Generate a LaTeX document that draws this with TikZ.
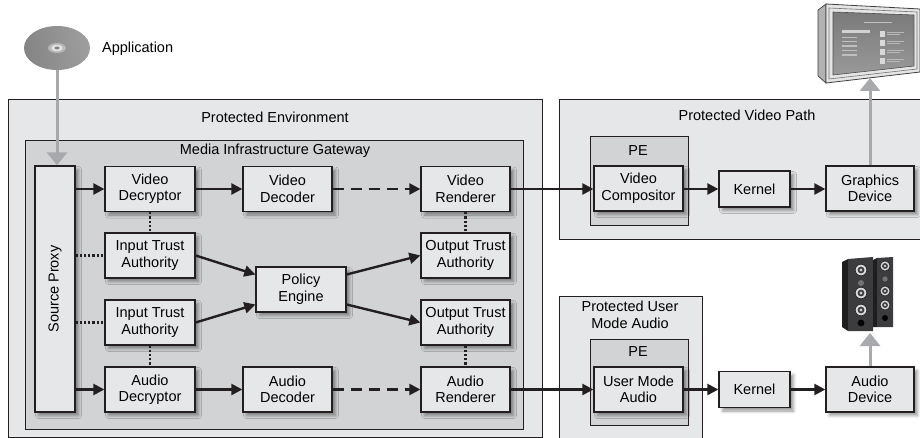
\documentclass[tikz,border=0pt]{standalone}
\usepackage{fontspec}
\setmainfont{Liberation Sans}
\usetikzlibrary{arrows.meta,shapes.geometric,shadows.blur,calc}

\definecolor{envfill}{HTML}{E6E7E8}
\definecolor{gwfill}{HTML}{D1D3D4}
\definecolor{boxfill}{HTML}{E6E7E8}
\definecolor{ink}{HTML}{231F20}
\definecolor{pipecol}{HTML}{A7A9AC}
\definecolor{spkfront}{HTML}{3C3C3E}
\definecolor{spkside}{HTML}{1E1E20}

\tikzset{
  container/.style={draw=ink, line width=1.1pt, fill=envfill, inner sep=0pt, anchor=north west},
  gateway/.style={container, fill=gwfill},
  pebox/.style={container, fill=gwfill},
  stage/.style={draw=ink, line width=1.3pt, fill=boxfill, align=center, inner sep=0pt,
    minimum width=89pt, minimum height=45pt,
    blur shadow={shadow xshift=3.5pt, shadow yshift=-3.5pt, shadow blur radius=3pt, shadow opacity=40}},
  kernelbox/.style={stage, minimum width=71pt, minimum height=36pt},
  title/.style={inner sep=0pt, align=center},
  flow/.style={draw=ink, line width=2.4pt, -{Triangle[length=11pt,width=11pt]}},
  relay/.style={flow, dash pattern=on 11.5pt off 6.5pt},
  trust/.style={draw=ink, line width=2.2pt, dash pattern=on 2.2pt off 2pt},
  pipe/.style={draw=pipecol, line width=3pt, -{Triangle[length=13pt,width=20pt]}},
  driver/.style={fill=white!85!black, draw=spkside, line width=0.6pt},
}

\begin{document}
\begin{tikzpicture}[x=1pt, y=-1pt, font=\fontsize{14.5}{16.5}\selectfont]
\useasboundingbox (0,0) rectangle (920,438);

% ---- containers ----
\node[container, minimum width=534pt, minimum height=338pt] (penv) at (8,99) {};
\node[title] (penvlbl) at (275,117) {Protected Environment};
\node[gateway, minimum width=498pt, minimum height=289pt] (mig) at (25,140) {};
\node[title] (miglbl) at (275,151) {Media Infrastructure Gateway};

\node[container, minimum width=370pt, minimum height=140pt] (pvp) at (559,99) {};
\node[title] (pvplbl) at (747,115) {Protected Video Path};
\node[pebox, minimum width=98pt, minimum height=89pt] (pev) at (590,136) {};
\node[title] (pevlbl) at (638,151) {PE};

\node[container, minimum width=143pt, minimum height=150pt] (puma) at (559,296) {};
\node[title] (pumalbl) at (630,315) {Protected User\\Mode Audio};
\node[pebox, minimum width=98pt, minimum height=86pt] (pea) at (590,339) {};
\node[title] (pealbl) at (638,352) {PE};

% ---- processing stages ----
\node[stage, minimum width=40pt, minimum height=246pt] (sp) at (55,289) {};
\node[rotate=90, inner sep=0pt] (splbl) at (sp.center) {Source Proxy};

\node[stage, minimum width=90pt] (vdec) at (150,189) {Video\\Decryptor};
\node[stage, minimum width=90pt] (ita1) at (150,255.5) {Input Trust\\Authority};
\node[stage, minimum width=90pt] (ita2) at (150,322.5) {Input Trust\\Authority};
\node[stage, minimum width=90pt] (adec) at (150,389.5) {Audio\\Decryptor};

\node[stage] (vdecod) at (287.5,189) {Video\\Decoder};
\node[stage] (adecod) at (287.5,389.5) {Audio\\Decoder};
\node[stage, minimum width=90pt] (pol) at (301,289.5) {Policy\\Engine};

\node[stage] (vrend) at (465.5,189) {Video\\Renderer};
\node[stage] (ota1) at (465.5,255.5) {Output Trust\\Authority};
\node[stage] (ota2) at (465.5,322.5) {Output Trust\\Authority};
\node[stage] (arend) at (465.5,389.5) {Audio\\Renderer};

\node[stage] (vcomp) at (638.5,188.5) {Video\\Compositor};
\node[kernelbox] (kv) at (754.5,189) {Kernel};
\node[stage, minimum width=88pt] (gdev) at (870,188.5) {Graphics\\Device};

\node[stage] (uma) at (638.5,389.5) {User Mode\\Audio};
\node[kernelbox] (ka) at (754.5,389.5) {Kernel};
\node[stage, minimum width=88pt] (adev) at (870,389.5) {Audio\\Device};

% ---- application disc ----
\node[ellipse, minimum width=66pt, minimum height=44pt, inner sep=0pt,
      left color=black!48, middle color=black!8, right color=black!38,
      shading angle=100] (disc) at (57,48) {};
\fill[black!28] (disc.center) ellipse (9 and 5);
\fill[black!12] (disc.center) ellipse (6 and 3.2);
\fill[black!50] (disc.center) ellipse (2.5 and 1.4);
\node[anchor=west, inner sep=0pt] (applbl) at (102,49) {Application};

% ---- display ----
\coordinate (monbase) at (870,78);
\fill[black!30, draw=black!75, line width=0.7pt] (818,10) -- (826,4) -- (826,83) -- (818,76) -- cycle;
\fill[black!10, draw=black!75, line width=0.8pt] (826,4) -- (920,9) -- (920,72) -- (826,83) -- cycle;
\draw[black!55, line width=0.6pt] (829,8) -- (917,12) -- (917,69) -- (829,79) -- cycle;
\shade[top color=black!52, bottom color=black!40, draw=black!70, line width=0.6pt]
  (833,12) -- (914,15) -- (914,66) -- (833,75) -- cycle;
\fill[black!25] (864,22) rectangle (892,23.2);
\fill[black!18] (842,30.5) rectangle (870,33.5);
\foreach \yy in {37,41,45.5,50,54.5}
  \fill[black!25] (842,\yy) rectangle (857,\yy+1.1);
\foreach \yy in {31,40,49,58}{
  \fill[black!15] (880,\yy) rectangle (885,\yy+6);
  \fill[black!28] (887,\yy+0.8) rectangle (904,\yy+1.8);
  \fill[black!28] (887,\yy+3.2) rectangle (900,\yy+4.2);
}

% ---- speakers ----
\coordinate (spkbase) at (870,333);
\fill[spkside] (842,262) -- (848,259) -- (848,331) -- (842,327) -- cycle;
\fill[spkfront] (848,259) -- (873,257) -- (873,331) -- (848,331) -- cycle;
\fill[spkside] (873,260) -- (877,258) -- (877,327) -- (873,327) -- cycle;
\fill[spkfront] (877,258) -- (893,257) -- (893,327) -- (877,327) -- cycle;
\foreach \yy in {270,293,310}{
  \draw[driver] (861,\yy) circle (5.8);
  \fill[spkfront] (861,\yy) circle (3.4);
  \fill[white!80!black] (861,\yy) circle (1.6);
}
\fill[black!55] (861,283) circle (3);
\fill[black] (861,323) circle (3.4);
\foreach \yy in {266,291,305}{
  \draw[driver] (885,\yy) circle (5);
  \fill[spkfront] (885,\yy) circle (2.9);
  \fill[white!80!black] (885,\yy) circle (1.4);
}
\fill[black!55] (885,279) circle (2.6);
\fill[black] (885,318) circle (3);

% ---- trust links ----
\draw[trust] (vdec.south) -- (ita1.north);
\draw[trust] (ita2.south) -- (adec.north);
\draw[trust] (vrend.south) -- (ota1.north);
\draw[trust] (ota2.south) -- (arend.north);
\draw[trust] (sp.east |- ita1) -- (ita1.west);
\draw[trust] (sp.east |- ita2) -- (ita2.west);

% ---- media flow ----
\draw[flow] (sp.east |- vdec) -- (vdec.west);
\draw[flow] (sp.east |- adec) -- (adec.west);
\draw[flow] (vdec) -- (vdecod);
\draw[flow] (adec) -- (adecod);
\draw[relay] (vdecod) -- (vrend);
\draw[relay] (adecod) -- (arend);
\draw[flow] (vrend.east) -- (vcomp.west |- vrend.east);
\draw[flow] (arend.east) -- (uma.west |- arend.east);
\draw[flow] (vcomp.east |- kv) -- (kv.west);
\draw[flow] (kv) -- (gdev.west |- kv);
\draw[flow] (uma.east |- ka) -- (ka.west);
\draw[flow] (ka) -- (adev.west |- ka);

% ---- policy ----
\draw[flow] (ita1.east) -- ($(pol.west)+(0,-15)$);
\draw[flow] (ita2.east) -- ($(pol.west)+(0,15)$);
\draw[flow] ($(pol.east)+(0,-15)$) -- (ota1.west);
\draw[flow] ($(pol.east)+(0,15)$) -- (ota2.west);

% ---- input and outputs ----
\draw[pipe] (disc.south) -- (disc.south |- sp.north);
\draw[pipe] (gdev.north) -- (monbase);
\draw[pipe] (adev.north) -- (spkbase);
\end{tikzpicture}
\end{document}
